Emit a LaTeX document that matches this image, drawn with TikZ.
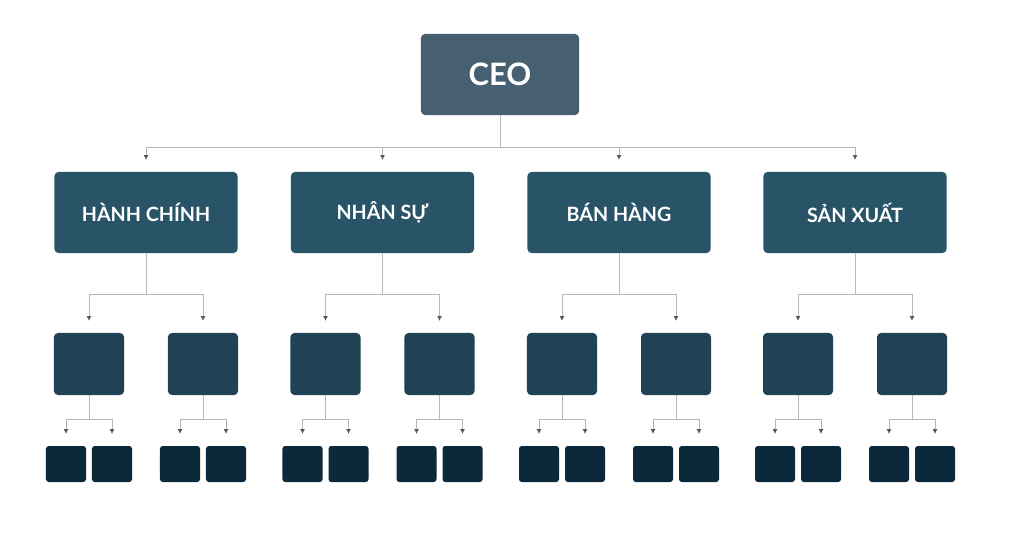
\documentclass[tikz,border=0pt]{standalone}
\usepackage{fontspec}
\setmainfont{Lato}
\usetikzlibrary{arrows.meta, calc, positioning}

\definecolor{ceoblue}{HTML}{466072}
\definecolor{deptblue}{HTML}{295468}
\definecolor{teamblue}{HTML}{204254}
\definecolor{unitblue}{HTML}{0C293B}
\definecolor{linegray}{HTML}{B4B8BA}
\definecolor{tipgray}{HTML}{505A60}

\tikzset{
  box/.style={rounded corners=0.1cm, inner sep=0pt, outer sep=0pt, text=white},
  ceobox/.style={box, fill=ceoblue, minimum width=3.95cm, minimum height=2.025cm, font=\bfseries\fontsize{22}{26}\selectfont},
  deptbox/.style={box, fill=deptblue, minimum width=4.575cm, minimum height=2.025cm, font=\bfseries\fontsize{14}{17}\selectfont},
  teambox/.style={box, fill=teamblue, minimum width=1.75cm, minimum height=1.55cm},
  unitbox/.style={box, rounded corners=0.07cm, fill=unitblue, minimum width=1cm, minimum height=0.9cm},
  link/.style={draw=linegray, line width=0.6pt, -{Latex[length=3.5pt,width=3.5pt,color=tipgray]}, shorten >=0.3cm}
}

\begin{document}
\begin{tikzpicture}[x=0.025cm, y=-0.025cm]
    \useasboundingbox (0,0) rectangle (1024,532);

    % CEO and the four departments
    \node[ceobox] (ceo) at (500,74.5) {CEO};
    \node[deptbox] (d1) at (146,212.5) {HÀNH CHÍNH};
    \node[deptbox] (d2) at (382.5,212.5) {NHÂN SỰ};
    \node[deptbox] (d3) at (619,212.5) {BÁN HÀNG};
    \node[deptbox] (d4) at (855,212.5) {SẢN XUẤT};

    \foreach \dep in {d1,d2,d3,d4}
        \draw[link] (ceo.south) -- ++(0,32) -| (\dep.north);

    % Teams below each department, units below each team
    \foreach \dep in {d1,d2,d3,d4} {
        \node[teambox] (\dep-a) at ($(\dep)+(-57,151.5)$) {};
        \node[teambox] (\dep-b) at ($(\dep)+(57,151.5)$) {};
        \draw[link] (\dep.south) -- ++(0,41) -| (\dep-a.north);
        \draw[link] (\dep.south) -- ++(0,41) -| (\dep-b.north);
        \foreach \team in {a,b} {
            \node[unitbox] (\dep-\team-1) at ($(\dep-\team)+(-23,100)$) {};
            \node[unitbox] (\dep-\team-2) at ($(\dep-\team)+(23,100)$) {};
            \draw[link] (\dep-\team.south) -- ++(0,24) -| (\dep-\team-1.north);
            \draw[link] (\dep-\team.south) -- ++(0,24) -| (\dep-\team-2.north);
        }
    }
\end{tikzpicture}
\end{document}
